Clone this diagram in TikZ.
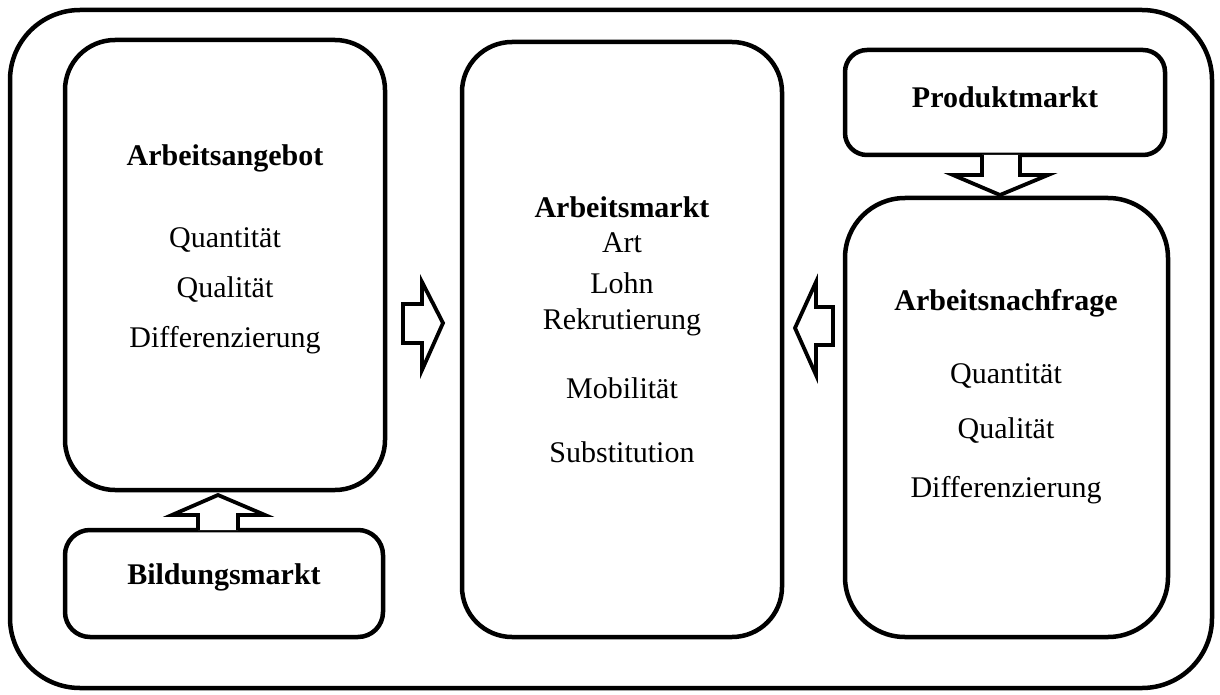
\documentclass[tikz,border=0pt]{standalone}
\usepackage{fontspec}
\setmainfont{Liberation Serif}
\begin{document}
\begin{tikzpicture}[x=1pt,y=-1pt,
  box/.style={draw, line width=4.5pt, minimum width=#1, inner sep=0pt, outer sep=0pt},
  txt/.style={font=\fontsize{30}{35}\selectfont, inner sep=0pt, anchor=center},
  btxt/.style={txt, font=\fontsize{30}{35}\selectfont\bfseries},
  blockarrow/.style={draw, line width=3.8pt, fill=white, miter limit=20, line join=miter}]
\useasboundingbox (0,0) rectangle (1220,695);
\node[box=1202pt, minimum height=678pt, rounded corners=70pt] (outer) at (611,349) {};
\node[box=320pt, minimum height=450pt, rounded corners=50pt] (angebot) at (225,265) {};
\node[box=318pt, minimum height=107pt, rounded corners=25pt] (bildung) at (224,583.5) {};
\node[box=320pt, minimum height=595pt, rounded corners=50pt] (markt) at (622,339.5) {};
\node[box=320pt, minimum height=105pt, rounded corners=22pt] (produkt) at (1005,102.5) {};
\node[box=323pt, minimum height=439pt, rounded corners=60pt] (nachfrage) at (1006.5,417.5) {};
% texts
\node[btxt] (t1) at (225,158) {Arbeitsangebot};
\node[txt] (t2) at (225,240) {Quantität};
\node[txt] (t3) at (225,290) {Qualität};
\node[txt] (t4) at (225,340) {Differenzierung};
\node[btxt] (t5) at (224,577) {Bildungsmarkt};
\node[btxt] (t6) at (622,207) {Arbeitsmarkt};
\node[txt] (t7) at (622,243) {Art};
\node[txt] (t8) at (622,283) {Lohn};
\node[txt] (t9) at (622,322) {Rekrutierung};
\node[txt] (t10) at (622,388) {Mobilität};
\node[txt] (t11) at (622,452) {Substitution};
\node[btxt] (t12) at (1005,97) {Produktmarkt};
\node[btxt] (t13) at (1006,303) {Arbeitsnachfrage};
\node[txt] (t14) at (1006,376) {Quantität};
\node[txt] (t15) at (1006,431) {Qualität};
\node[txt] (t16) at (1006,490) {Differenzierung};
% block arrows
\draw[blockarrow] (403,304) -- (422,304) -- (422,282) -- (443,323) -- (422,370) -- (422,343) -- (403,343) -- cycle;
\draw[blockarrow] (833,307) -- (816,307) -- (816,282) -- (795,328) -- (816,375) -- (816,345) -- (833,345) -- cycle;
\draw[blockarrow] (198,530) -- (198,515) -- (172,515) -- (218,495) -- (265,515) -- (238,515) -- (238,530);
\draw[blockarrow] (982,155) -- (982,175) -- (953,175) -- (1000,195) -- (1048,175) -- (1020,175) -- (1020,155);
\end{tikzpicture}
\end{document}
